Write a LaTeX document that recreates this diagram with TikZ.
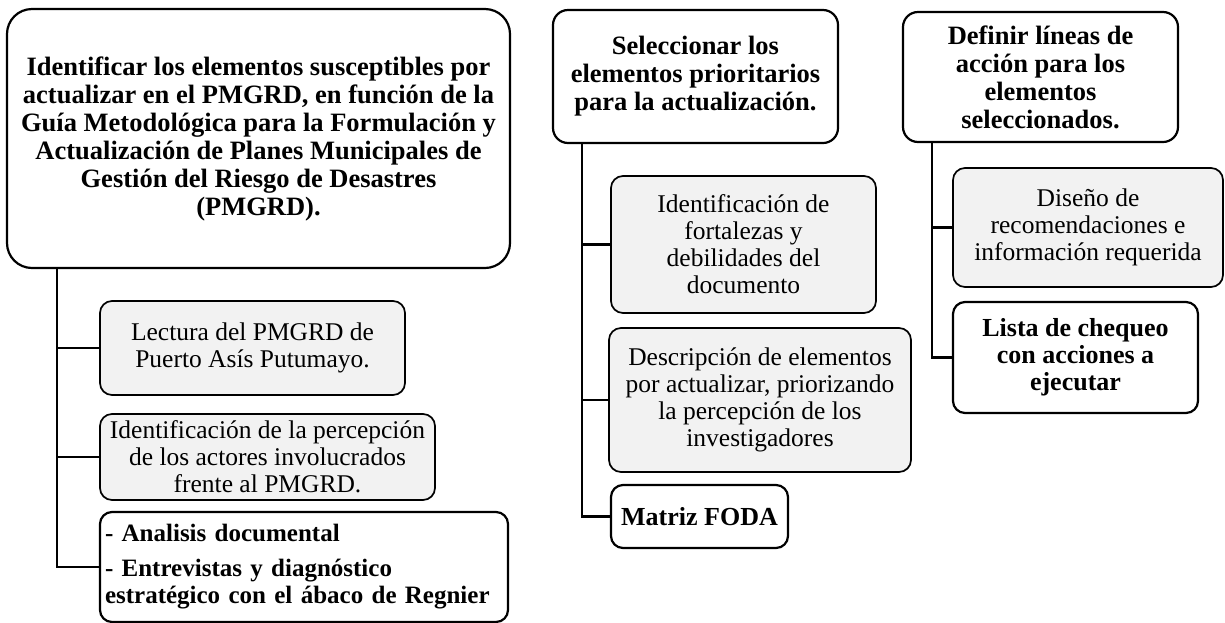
\documentclass[tikz,border=0pt]{standalone}
\usepackage{fontspec}
\setmainfont{Liberation Serif}
\usepackage{tikz}
\definecolor{lightfill}{HTML}{F2F2F2}
\tikzstyle{stage} = [rectangle, rounded corners=25pt, inner sep=0pt, align=center, draw=black, line width=2.2pt, font=\bfseries\fontsize{26.5}{28}\selectfont]
\tikzstyle{task} = [rectangle, rounded corners=12pt, inner sep=0pt, align=center, draw=black, fill=lightfill, line width=1.7pt, font=\fontsize{25.5}{27}\selectfont]
\tikzstyle{result} = [rectangle, rounded corners=12pt, inner sep=0pt, align=center, draw=black, fill=white, line width=2.2pt, font=\bfseries\fontsize{26}{27}\selectfont]
\tikzstyle{link} = [line width=2.8pt]

\begin{document}
\begin{tikzpicture}[x=1pt, y=-1pt]
\useasboundingbox (0,0) rectangle (1225,622);

\coordinate (trunk_one) at (57,0);
\coordinate (trunk_two) at (582,0);
\coordinate (trunk_three) at (932,0);

\node (identificar) [stage, minimum width=503pt, minimum height=259pt] at (258.5,138.5) {Identificar los elementos susceptibles por\\actualizar en el PMGRD, en función de la\\Guía Metodológica para la Formulación y\\Actualización de Planes Municipales de\\Gestión del Riesgo de Desastres\\(PMGRD).};
\node (lectura) [task, minimum width=305pt, minimum height=94pt] at (252.5,348) {Lectura del PMGRD de\\Puerto Asís Putumayo.};
\node (percepcion) [task, minimum width=335pt, minimum height=86pt] at (267.5,457) {Identificación de la percepción\\de los actores involucrados\\frente al PMGRD.};
\node (analisis) [result, align=left, text width=398pt, inner xsep=5pt, minimum height=110pt, font=\bfseries\fontsize{25}{27}\selectfont] at (304,567) {- Analisis documental\\[8pt]- Entrevistas y diagnóstico\\estratégico con el ábaco de Regnier};

\node (seleccionar) [stage, rounded corners=15pt, minimum width=285pt, minimum height=133pt] at (695.5,76.5) {Seleccionar los\\elementos prioritarios\\para la actualización.};
\node (fortalezas) [task, minimum width=265pt, minimum height=137pt] at (743.5,244.5) {Identificación de\\fortalezas y\\debilidades del\\documento};
\node (descripcion) [task, minimum width=302pt, minimum height=144pt] at (760,400) {Descripción de elementos\\por actualizar, priorizando\\la percepción de los\\investigadores};
\node (foda) [result, minimum width=177pt, minimum height=63pt] at (699.5,516.5) {Matriz FODA};

\node (definir) [stage, rounded corners=15pt, minimum width=275pt, minimum height=130pt] at (1040.5,77) {Definir líneas de\\acción para los\\elementos\\seleccionados.};
\node (diseno) [task, minimum width=270pt, minimum height=119pt] at (1088,227.5) {Diseño de\\recomendaciones e\\información requerida};
\node (lista) [result, minimum width=245pt, minimum height=111pt] at (1075.5,357.5) {Lista de chequeo\\con acciones a\\ejecutar};

\draw [link] (identificar.south -| trunk_one) |- (lectura.west);
\draw [link] (identificar.south -| trunk_one) |- (percepcion.west);
\draw [link] (identificar.south -| trunk_one) |- (analisis.west);

\draw [link] (seleccionar.south -| trunk_two) |- (fortalezas.west);
\draw [link] (seleccionar.south -| trunk_two) |- (descripcion.west);
\draw [link] (seleccionar.south -| trunk_two) |- (foda.west);

\draw [link] (definir.south -| trunk_three) |- (diseno.west);
\draw [link] (definir.south -| trunk_three) |- (lista.west);

\end{tikzpicture}
\end{document}
